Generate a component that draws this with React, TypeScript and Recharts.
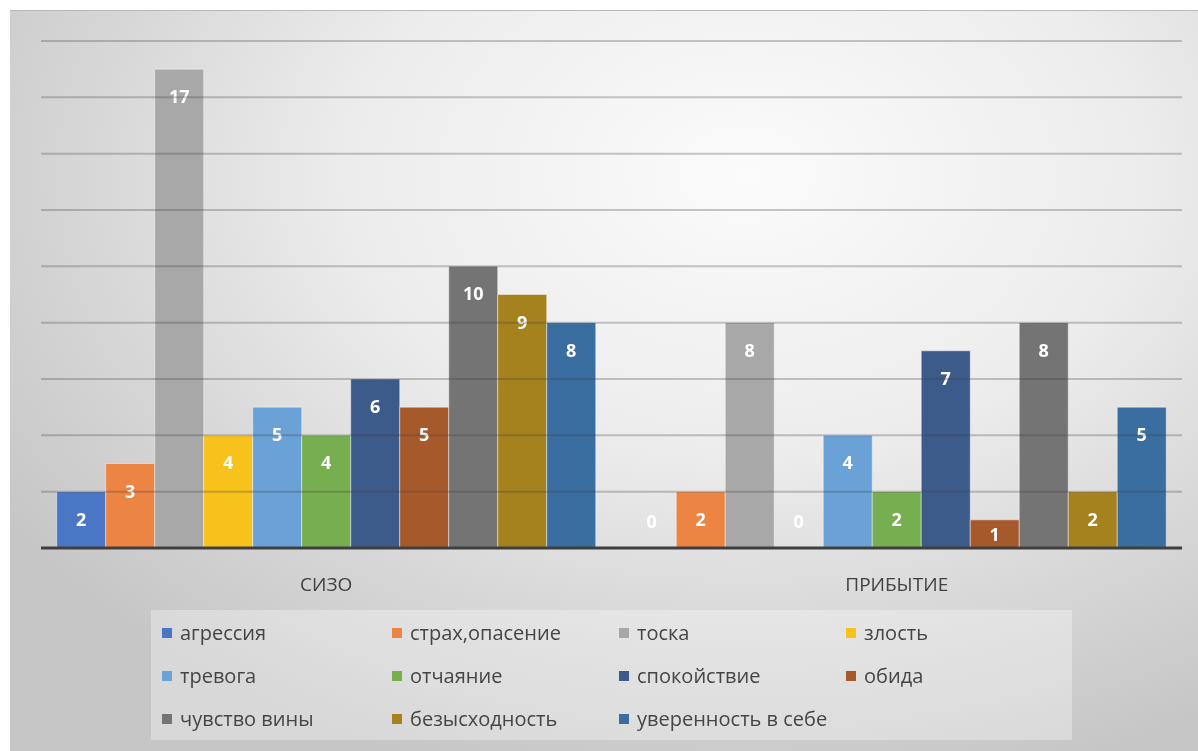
import React from "react";
import {
  BarChart,
  Bar,
  XAxis,
  YAxis,
  Legend,
  ReferenceLine,
  Rectangle,
} from "recharts";

const categories = ["СИЗО", "ПРИБЫТИЕ"];

const seriesNames = [
  "агрессия",
  "страх,опасение",
  "тоска",
  "злость",
  "тревога",
  "отчаяние",
  "спокойствие",
  "обида",
  "чувство вины",
  "безысходность",
  "уверенность в себе",
];

const sizoValues = [2, 3, 17, 4, 5, 4, 6, 5, 10, 9, 8];
const arrivalValues = [0, 2, 8, 0, 4, 2, 7, 1, 8, 2, 5];

const colors = [
  "#4A76C6",
  "#EC8444",
  "#A8A8A8",
  "#F8C21C",
  "#6AA2D8",
  "#76AE50",
  "#3C5A8A",
  "#A65A2C",
  "#747474",
  "#A6821E",
  "#3A6EA0",
];

const yTicks = [0, 2, 4, 6, 8, 10, 12, 14, 16, 18];

const data = categories.map((name, ci) => {
  const row: Record<string, string | number> = { name };
  const vals = ci === 0 ? sizoValues : arrivalValues;
  seriesNames.forEach((s, i) => {
    row["s" + i] = vals[i];
  });
  return row;
});

const textFont = '"Open Sans", sans-serif';

// bar + its value label (drawn here so that zero values still get a label)
const BarWithLabel = (props: any) => {
  const { x, y, width, height, value, fill } = props;
  const v = Array.isArray(value) ? value[1] - value[0] : value;
  const h = Math.abs(height || 0);
  const top = height < 0 ? y + height : y;
  const cy = v === 0 ? top - 27 : top + Math.min(27, h / 2);
  return (
    <g>
      {h > 0 && (
        <Rectangle
          x={x}
          y={top}
          width={width}
          height={h}
          fill={fill}
          stroke="rgba(255,255,255,0.45)"
          strokeWidth={1}
        />
      )}
      <text
        x={x + width / 2}
        y={cy}
        textAnchor="middle"
        dominantBaseline="central"
        fill="#ffffff"
        fontFamily={textFont}
        fontWeight={700}
        fontSize={18}
      >
        {v}
      </text>
    </g>
  );
};

const LegendBox = (props: any) => {
  const payload = [...(props.payload || [])].sort(
    (a: any, b: any) => seriesNames.indexOf(a.value) - seriesNames.indexOf(b.value)
  );
  return (
    <div
      style={{
        width: 921,
        height: 130,
        background: "rgba(255,255,255,0.32)",
        display: "grid",
        gridTemplateColumns: "230px 227px 227px 227px",
        gridAutoRows: "43px",
        paddingLeft: 11,
        paddingTop: 1,
        boxSizing: "border-box",
      }}
    >
      {payload.map((p: any) => (
        <div
          key={p.value}
          style={{
            display: "flex",
            alignItems: "center",
            fontFamily: textFont,
            fontSize: 20,
            color: "#454545",
            whiteSpace: "nowrap",
          }}
        >
          <span
            style={{
              display: "inline-block",
              width: 10,
              height: 10,
              background: p.color,
              marginRight: 8,
            }}
          />
          {p.value}
        </div>
      ))}
    </div>
  );
};

export default function App() {
  return (
    <div
      style={{
        position: "fixed",
        left: 10,
        top: 10,
        width: 1188,
        height: 741,
        borderTop: "1px solid #b9b9b9",
        boxSizing: "border-box",
        background:
          "radial-gradient(ellipse 75% 85% at 62% 22%, #fbfbfb 0%, #ececec 45%, #d6d6d6 75%, #c6c6c6 100%)",
      }}
    >
      <BarChart
        width={1188}
        height={740}
        data={data}
        margin={{ top: 30, right: 16, left: 31, bottom: 11 }}
        barCategoryGap="2.76%"
        barGap={0}
      >
        <XAxis
          dataKey="name"
          height={62}
          tickLine={false}
          axisLine={{ stroke: "#3f3f3f", strokeWidth: 3 }}
          tickMargin={24}
          tick={{ fill: "#404040", fontSize: 19, fontFamily: textFont }}
        />
        <YAxis hide domain={[0, 18]} ticks={yTicks} />
        {seriesNames.map((s, i) => (
          <Bar
            key={s}
            dataKey={"s" + i}
            name={s}
            fill={colors[i]}
            shape={BarWithLabel}
            isAnimationActive={false}
          />
        ))}
        {yTicks
          .filter((t) => t > 0)
          .map((t) => (
            <ReferenceLine
              key={t}
              y={t}
              stroke="rgba(60,60,60,0.28)"
              strokeWidth={2}
              zIndex={1500}
            />
          ))}
        <Legend
          verticalAlign="bottom"
          content={LegendBox}
          wrapperStyle={{ left: 141, width: 921, bottom: 11 }}
        />
      </BarChart>
    </div>
  );
}
